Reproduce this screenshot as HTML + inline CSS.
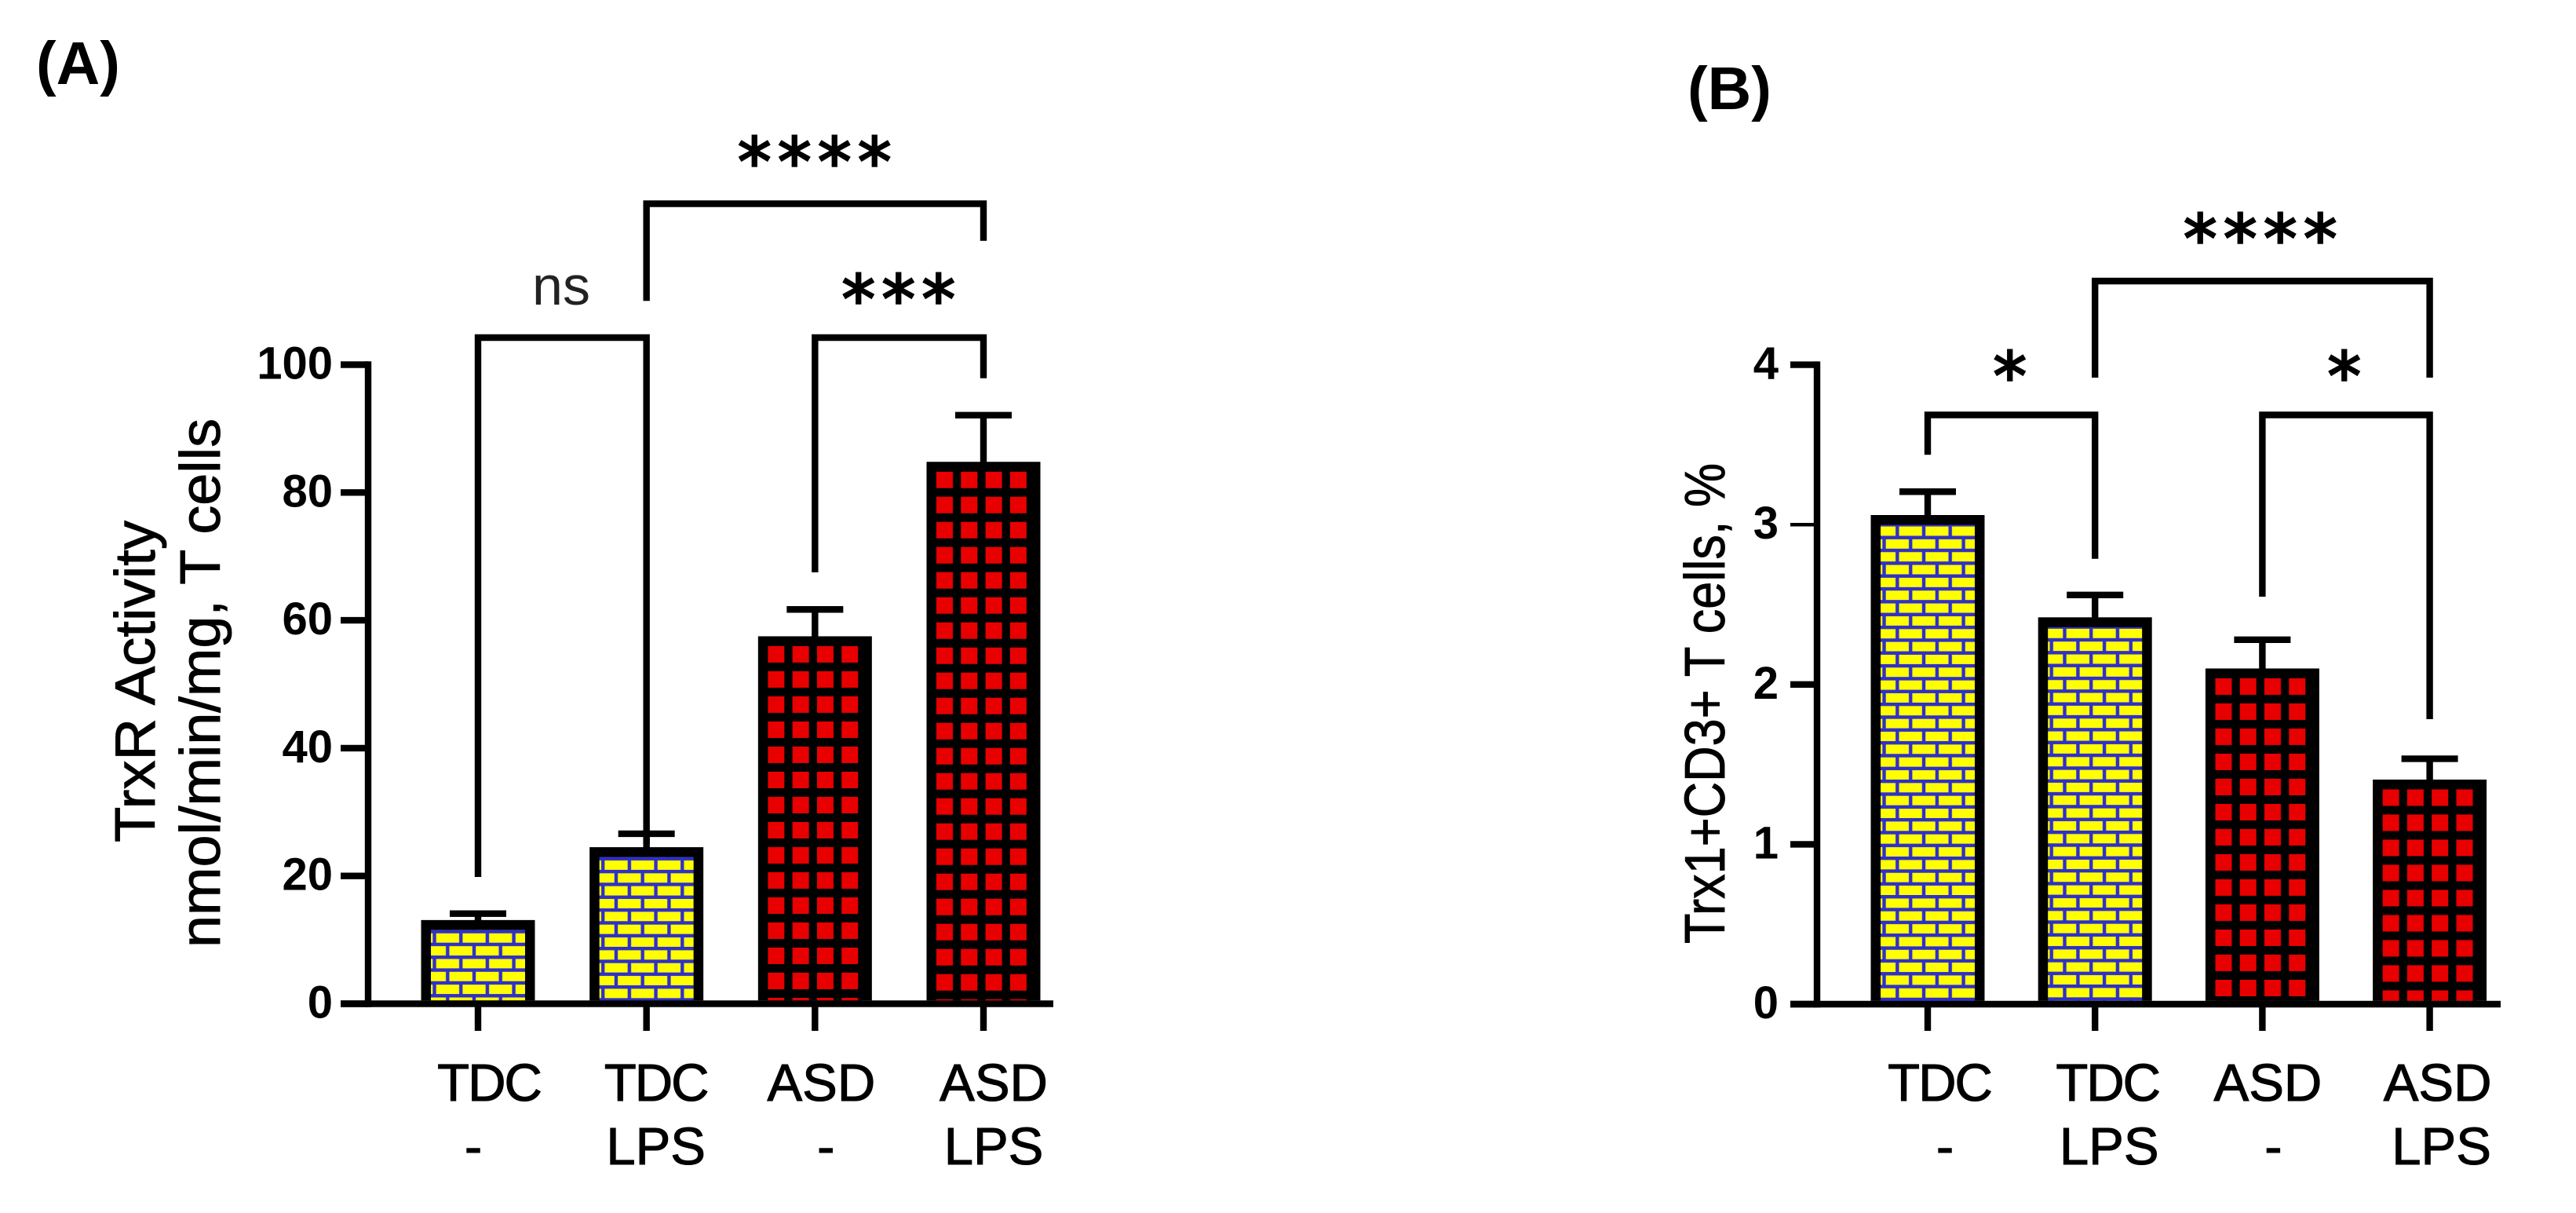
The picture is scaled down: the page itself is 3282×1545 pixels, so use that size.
<!DOCTYPE html>
<html lang="en">
<head>
<meta charset="utf-8">
<title>TrxR activity and Trx1+CD3+ T cells</title>
<style>
html,body{margin:0;padding:0;background:#fff;}
svg{display:block;}
text{fill:#000;font-family:"Liberation Sans",sans-serif;}
.tick{font-size:58px;font-weight:700;}
.cat{font-size:67px;stroke:#000;stroke-width:1.1px;}
.title{font-size:72px;stroke:#000;stroke-width:0.9px;}
.panel{font-size:77px;font-weight:700;}
.star{font-family:"DejaVu Sans",sans-serif;font-size:85px;letter-spacing:8.5px;stroke:#000;stroke-width:2.6px;}
.ns{font-size:70px;fill:#222;}
</style>
</head>
<body>
<svg id="fig" width="3282" height="1545" viewBox="0 0 3282 1545" xmlns="http://www.w3.org/2000/svg">
  <rect width="3282" height="1545" fill="#fff"/>
  <defs id="defs"></defs>
  <text class="panel" x="46" y="107">(A)</text>
  <text class="panel" x="2150" y="139">(B)</text>
  <text class="title" text-anchor="middle" textLength="410" lengthAdjust="spacingAndGlyphs" transform="translate(197,868) rotate(-90)">TrxR Activity</text>
  <text class="title" text-anchor="middle" textLength="674" lengthAdjust="spacingAndGlyphs" transform="translate(280,870) rotate(-90)">nmol/min/mg, T cells</text>
  <text class="title" text-anchor="middle" textLength="612" lengthAdjust="spacingAndGlyphs" transform="translate(2197,896) rotate(-90)">Trx1+CD3+ T cells, %</text>
  <g id="panelA"></g>
  <g id="panelB"></g>
</svg>
<script>
const categoryTop = ['TDC', 'TDC', 'ASD', 'ASD'];
const categoryBottom = ['-', 'LPS', '-', 'LPS'];
const barStyles = ['brick', 'brick', 'grid', 'grid'];
const meansA = [13.1, 24.5, 57.5, 84.8];
const errorsA = [14.1, 26.6, 61.7, 92.1];
const ticksA = [0, 20, 40, 60, 80, 100];
const meansB = [3.06, 2.42, 2.1, 1.405];
const errorsB = [3.206, 2.56, 2.28, 1.535];
const ticksB = [0, 1, 2, 3, 4];

const NS = 'http://www.w3.org/2000/svg';
const STROKE = 8.4;
const BAR_W = 145;
const BORDER = 12.5;
const defs = document.getElementById('defs');

function el(tag, attrs, parent) {
  const node = document.createElementNS(NS, tag);
  for (const k in attrs) node.setAttribute(k, attrs[k]);
  parent.appendChild(node);
  return node;
}

function brickPattern(id, x0, y0) {
  const W = 33.7, H = 32.68, blue = '#3030c8';
  const p = el('pattern', {id: id, patternUnits: 'userSpaceOnUse', x: x0, y: y0, width: W, height: H}, defs);
  el('rect', {width: W, height: H, fill: '#ffff00'}, p);
  el('rect', {x: 0, y: 0, width: W, height: 4.4, fill: blue}, p);
  el('rect', {x: 0, y: H / 2, width: W, height: 4.4, fill: blue}, p);
  el('rect', {x: 2.3, y: 0, width: 4.4, height: H / 2, fill: blue}, p);
  el('rect', {x: 19.1, y: H / 2, width: 4.4, height: H / 2, fill: blue}, p);
}

function gridPattern(id, x0, y0) {
  const W = 31.3, H = 32;
  const p = el('pattern', {id: id, patternUnits: 'userSpaceOnUse', x: x0, y: y0, width: W, height: H}, defs);
  el('rect', {width: W, height: H, fill: '#000'}, p);
  el('rect', {x: 0, y: 0, width: 21, height: 21, fill: '#e80000'}, p);
}

function drawPanel(cfg) {
  const g = document.getElementById(cfg.id);
  const x = cfg.x, y = cfg.y;

  cfg.means.forEach(function (v, i) {
    const cx = x(i), top = y(v), base = y(0) - STROKE / 2;
    const errY = y(cfg.errors[i]);

    const stem = el('line', {x1: cx, x2: cx, y1: errY, y2: top + 2, stroke: '#000', 'stroke-width': STROKE}, g);
    
    

    const cap = el('line', {x1: cx - 36, x2: cx + 36, y1: errY, y2: errY, stroke: '#000', 'stroke-width': STROKE}, g);
    
    

    const outer = el('rect', {x: cx - BAR_W / 2, y: top, width: BAR_W, height: base - top, fill: '#000'}, g);
    
    

    const innerX = cx - BAR_W / 2 + BORDER, innerY = top + BORDER;
    const pid = 'pat-' + cfg.key + '-' + i;
    if (barStyles[i] === 'brick') brickPattern(pid, innerX, innerY + cfg.brickOffset);
    else gridPattern(pid, innerX, innerY);

    const inner = el('rect', {x: innerX, y: innerY, width: BAR_W - 2 * BORDER, height: Math.max(0, base - innerY), fill: 'url(#' + pid + ')'}, g);
    
    
  });

  const axisY = el('line', {x1: cfg.axisX, x2: cfg.axisX, y1: y(cfg.ticks[cfg.ticks.length - 1]) - STROKE / 2, y2: y(0) + STROKE / 2, stroke: '#000', 'stroke-width': STROKE}, g);
  
  

  const axisX = el('line', {x1: cfg.tickLeft, x2: cfg.axisEnd, y1: y(0), y2: y(0), stroke: '#000', 'stroke-width': STROKE}, g);
  
  

  cfg.ticks.forEach(function (t) {
    const mark = el('line', {x1: cfg.tickLeft, x2: cfg.axisX, y1: y(t), y2: y(t), stroke: '#000', 'stroke-width': (cfg.key === 'b' && t === 3) ? 4.5 : STROKE}, g);
    
    

    const label = el('text', {class: 'tick', x: cfg.tickText, y: y(t) + 18, 'text-anchor': 'end'}, g);
    label.textContent = t;
    
    
  });

  categoryTop.forEach(function (name, i) {
    const mark = el('line', {x1: x(i), x2: x(i), y1: y(0), y2: 1313, stroke: '#000', 'stroke-width': STROKE}, g);
    
    

    const top = el('text', {class: 'cat', x: x(i) + cfg.nudgeTop[i], y: 1402, 'text-anchor': 'middle', 'letter-spacing': name === 'TDC' ? -2 : 0}, g);
    top.textContent = name;
    
    

    const bottom = el('text', {class: 'cat', x: x(i) + cfg.nudgeBottom[i], y: 1483, 'text-anchor': 'middle'}, g);
    bottom.textContent = categoryBottom[i];
    
    
  });

  cfg.brackets.forEach(function (b, n) {
    const d = 'M' + x(b.from) + ' ' + b.legL + 'L' + x(b.from) + ' ' + b.top + 'L' + x(b.to) + ' ' + b.top + 'L' + x(b.to) + ' ' + b.legR;
    const path = el('path', {d: d, fill: 'none', stroke: '#000', 'stroke-width': STROKE, 'stroke-linejoin': 'miter'}, g);
    
    

    const t = el('text', {class: b.label === 'ns' ? 'ns' : 'star', x: b.lx, y: b.ly, 'text-anchor': 'middle'}, g);
    t.textContent = b.label;
    
    
  });
}

drawPanel({
  id: 'panelA', key: 'a',
  x: function (i) { return 609 + i * 214.67; },
  y: function (v) { return 1278.5 - v * 8.14; },
  means: meansA, errors: errorsA, ticks: ticksA,
  axisX: 469, tickLeft: 434, axisEnd: 1342, tickText: 424, brickOffset: 0,
  nudgeTop: [14, 12, 8, 13], nudgeBottom: [-6, 12, 14, 13],
  brackets: [
    {from: 0, to: 1, top: 430, legL: 1117, legR: 1075, label: 'ns', lx: 715, ly: 388},
    {from: 1, to: 3, top: 259.5, legL: 383.3, legR: 306.7, label: '****', lx: 1042, ly: 236},
    {from: 2, to: 3, top: 430, legL: 729, legR: 481.7, label: '***', lx: 1149, ly: 411}
  ]
});

drawPanel({
  id: 'panelB', key: 'b',
  x: function (i) { return 2456 + i * 213.2; },
  y: function (v) { return 1279 - v * 203.6; },
  means: meansB, errors: errorsB, ticks: ticksB,
  axisX: 2315, tickLeft: 2281, axisEnd: 3186, tickText: 2266, brickOffset: 14,
  nudgeTop: [15, 16, 7, 10], nudgeBottom: [22, 18, 14, 15],
  brackets: [
    {from: 0, to: 1, top: 528.5, legL: 579.3, legR: 711.7, label: '*', lx: 2565, ly: 509},
    {from: 1, to: 3, top: 358, legL: 481, legR: 481, label: '****', lx: 2884, ly: 334},
    {from: 2, to: 3, top: 528.5, legL: 760, legR: 916, label: '*', lx: 2991, ly: 509}
  ]
});
</script>
</body>
</html>
